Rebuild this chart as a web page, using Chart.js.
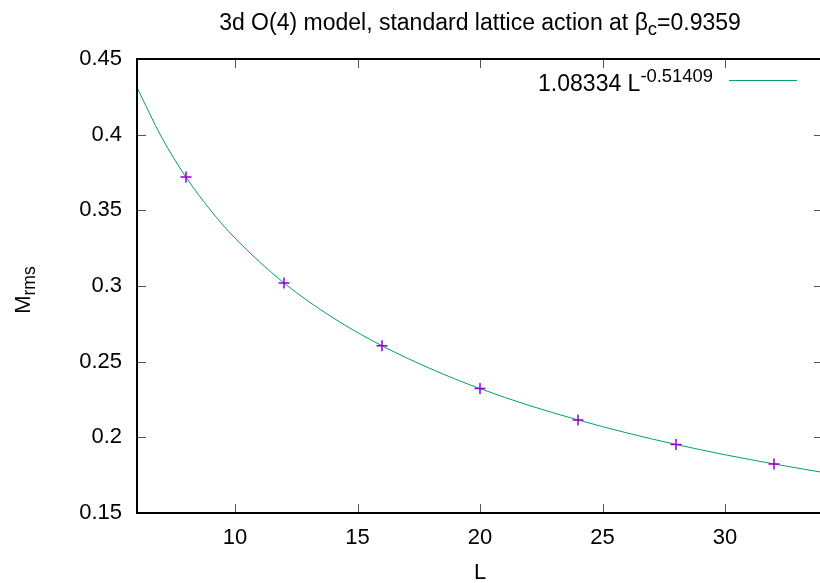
<!DOCTYPE html>
<html>
<head>
<meta charset="utf-8">
<script src="https://cdn.jsdelivr.net/npm/chart.js@4.4.1/dist/chart.umd.min.js"></script>
<style>
  html, body { margin: 0; padding: 0; background: #fff; overflow: hidden; }
  #wrap { position: absolute; left: 0; top: 0; width: 830px; height: 583px; }
</style>
</head>
<body>
<div id="wrap"><canvas id="chart"></canvas></div>
<script>
// fit curve 1.08334 L^-0.51409
const fitL = [6, 7, 8, 9, 10, 12, 14, 16, 18, 20, 22, 24, 26, 28, 30, 32, 34];
const fitM = [0.4312, 0.3984, 0.3719, 0.3501, 0.3316, 0.3020, 0.2790, 0.2605, 0.2452,
              0.2322, 0.2211, 0.2115, 0.2029, 0.1953, 0.1885, 0.1824, 0.1768];

// measured points
const sizes = [8, 12, 16, 20, 24, 28, 32];
const mrms = [0.372, 0.302, 0.2605, 0.2322, 0.2115, 0.1953, 0.1824];

const xTicks = [10, 15, 20, 25, 30];
const yTicks = [0.15, 0.2, 0.25, 0.3, 0.35, 0.4, 0.45];
const yTickLabels = ['0.15', '0.2', '0.25', '0.3', '0.35', '0.4', '0.45'];

const FONT = 'Liberation Sans, Arial, sans-serif';
const FS = 22;
const FT = 23; // title and key

// draw text pieces [text, size, dy] left to right from x
function pieces(ctx, parts, x, y) {
  let cx = x;
  parts.forEach(([t, s, dy]) => {
    ctx.font = s + 'px ' + FONT;
    ctx.fillText(t, cx, y + dy);
    cx += ctx.measureText(t).width;
  });
  return cx;
}
function piecesWidth(ctx, parts) {
  let w = 0;
  parts.forEach(([t, s]) => { ctx.font = s + 'px ' + FONT; w += ctx.measureText(t).width; });
  return w;
}

const gnuplotLook = {
  id: 'gnuplotLook',
  afterDraw(chart) {
    const { ctx, chartArea: a, scales: { x, y } } = chart;
    ctx.save();
    const seg = (x1, y1, x2, y2) => { ctx.beginPath(); ctx.moveTo(x1, y1); ctx.lineTo(x2, y2); ctx.stroke(); };

    // inward ticks, mirrored
    ctx.strokeStyle = '#555';
    ctx.lineWidth = 1;
    xTicks.forEach(v => {
      const px = Math.round(x.getPixelForValue(v)) + 0.5;
      seg(px, a.bottom, px, a.bottom - 9);
      seg(px, a.top, px, a.top + 9);
    });
    yTicks.forEach(v => {
      const py = Math.round(y.getPixelForValue(v)) + 0.5;
      seg(a.left, py, a.left + 9, py);
      seg(a.right, py, a.right - 9, py);
    });

    // border
    ctx.strokeStyle = '#000';
    ctx.lineWidth = 2;
    ctx.strokeRect(a.left, a.top, a.right - a.left, a.bottom - a.top);

    ctx.fillStyle = '#000';
    ctx.textBaseline = 'alphabetic';
    ctx.textAlign = 'left';
    const cx = (a.left + a.right) / 2;

    // title
    const title = [['3d O(4) model, standard lattice action at \u03b2', FT, 0], ['c', FT * 0.8, 5], ['=0.9359', FT, 0]];
    pieces(ctx, title, cx - piecesWidth(ctx, title) / 2, 30);

    // x label
    ctx.font = FS + 'px ' + FONT;
    ctx.textAlign = 'center';
    ctx.fillText('L', cx, 579);
    ctx.textAlign = 'left';

    // y label
    const ylab = [['M', FS, 0], ['rms', FS * 0.8, 5]];
    ctx.save();
    ctx.translate(30, 290);
    ctx.rotate(-Math.PI / 2);
    pieces(ctx, ylab, -piecesWidth(ctx, ylab) / 2, 0);
    ctx.restore();

    // key
    const leg = [['1.08334 L', FT, 0], ['-0.51409', FT * 0.8, -9]];
    pieces(ctx, leg, 713 - piecesWidth(ctx, leg), 91);
    ctx.strokeStyle = '#009e73';
    ctx.lineWidth = 1;
    seg(729, 80.5, 797, 80.5);

    ctx.restore();
  }
};

new Chart(document.getElementById('chart'), {
  type: 'scatter',
  data: {
    datasets: [
      {
        label: 'data',
        data: sizes.map((v, i) => ({ x: v, y: mrms[i] })),
        pointStyle: 'cross',
        pointRadius: 5.5,
        pointHoverRadius: 5.5,
        borderColor: '#9400d3',
        backgroundColor: '#9400d3',
        pointBorderWidth: 1.5,
        order: 0
      },
      {
        label: 'fit',
        type: 'line',
        data: fitL.map((v, i) => ({ x: v, y: fitM[i] })),
        borderColor: '#009e73',
        borderWidth: 1,
        pointRadius: 0,
        cubicInterpolationMode: 'monotone',
        fill: false,
        order: 1
      }
    ]
  },
  options: {
    responsive: true,
    maintainAspectRatio: false,
    animation: false,
    events: [],
    layout: { padding: { top: 59, right: 4, left: 0, bottom: 0 } },
    plugins: { legend: { display: false }, title: { display: false }, tooltip: { enabled: false } },
    scales: {
      x: {
        type: 'linear',
        min: 6,
        max: 34,
        grid: { display: false },
        border: { display: false },
        afterBuildTicks: s => { s.ticks = xTicks.map(v => ({ value: v })); },
        afterFit: s => { s.height = 70; },
        ticks: { color: '#000', font: { family: FONT, size: FS }, padding: 4, maxRotation: 0 }
      },
      y: {
        min: 0.15,
        max: 0.45,
        grid: { display: false },
        border: { display: false },
        afterBuildTicks: s => { s.ticks = yTicks.map(v => ({ value: v })); },
        afterFit: s => { s.width = 137; },
        ticks: {
          color: '#000',
          font: { family: FONT, size: FS },
          padding: 7,
          callback: (v, i) => yTickLabels[i]
        }
      }
    }
  },
  plugins: [gnuplotLook]
});
</script>
</body>
</html>
